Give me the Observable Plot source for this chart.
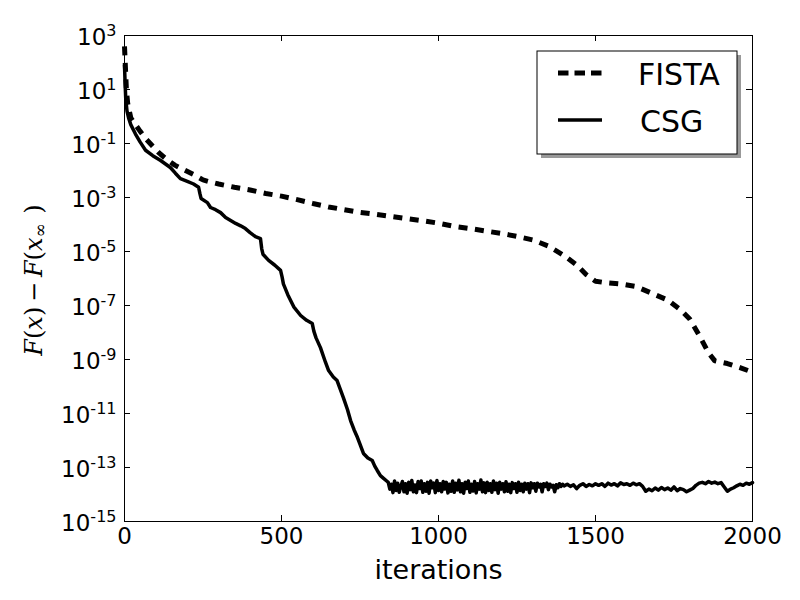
<!DOCTYPE html>
<html>
<head>
<meta charset="utf-8">
<script src="https://cdn.jsdelivr.net/npm/d3@7"></script>
<script src="https://cdn.jsdelivr.net/npm/@observablehq/plot@0.6"></script>
<style>
  html, body { margin: 0; padding: 0; background: white; }
</style>
</head>
<body>
<div id="chart"></div>
<script>
// ---- data ----
const xTicks = [0, 500, 1000, 1500, 2000];
const yTickExponents = [3, 1, -1, -3, -5, -7, -9, -11, -13, -15];
const seriesNames = ["FISTA", "CSG"];
const xLabel = "iterations";

const fistaIter = [0, 3, 6, 10, 20, 35, 50, 70, 90, 110, 130, 160, 190, 220, 250, 275, 300, 350, 400, 450, 500, 550, 600, 650, 700, 750, 800, 850, 900, 950, 1000, 1050, 1100, 1150, 1200, 1250, 1300, 1350, 1400, 1440, 1470, 1500, 1530, 1580, 1630, 1680, 1730, 1770, 1800, 1830, 1860, 1880, 1920, 1960, 2000];
const fistaLog10 = [2.6, 1.8, 1.0, 0.5, -0.05, -0.3, -0.55, -0.85, -1.1, -1.35, -1.55, -1.8, -1.98, -2.15, -2.35, -2.43, -2.5, -2.62, -2.72, -2.85, -2.95, -3.08, -3.22, -3.35, -3.45, -3.55, -3.62, -3.7, -3.78, -3.86, -3.95, -4.07, -4.15, -4.24, -4.33, -4.44, -4.57, -4.8, -5.15, -5.5, -5.85, -6.1, -6.15, -6.2, -6.3, -6.55, -6.8, -7.15, -7.5, -8.1, -8.75, -9.05, -9.15, -9.3, -9.47];

// CSG: descent phase
const csgIterA = [0, 2, 4, 8, 13, 20, 35, 50, 67, 90, 115, 146, 162, 178, 200, 220, 236, 240, 244, 264, 274, 290, 306, 322, 338, 354, 370, 385, 400, 417, 433, 437, 441, 459, 478, 497, 502, 506, 520, 539, 561, 580, 598, 603, 610, 624, 640, 650, 665, 677, 687, 697, 710, 720, 731, 742, 752, 761, 775, 789, 797, 805, 815, 825, 835];
const csgLog10A = [1.9, 1.2, 0.65, 0.2, -0.05, -0.3, -0.65, -0.95, -1.25, -1.45, -1.63, -1.89, -2.1, -2.3, -2.4, -2.5, -2.62, -2.85, -3.04, -3.19, -3.37, -3.45, -3.56, -3.74, -3.85, -3.96, -4.05, -4.15, -4.3, -4.45, -4.52, -4.9, -5.1, -5.33, -5.5, -5.7, -5.95, -6.2, -6.6, -7.05, -7.37, -7.55, -7.67, -7.95, -8.2, -8.56, -9.1, -9.41, -9.65, -9.78, -10.1, -10.41, -10.85, -11.26, -11.6, -11.89, -12.2, -12.48, -12.65, -12.74, -12.95, -13.11, -13.3, -13.4, -13.5];
// CSG: noisy floor
const csgIterB = [840, 845, 850, 855, 860, 865, 870, 875, 880, 885, 890, 895, 900, 905, 910, 915, 920, 925, 930, 935, 940, 945, 950, 955, 960, 965, 970, 975, 980, 985, 990, 995,
  1000, 1005, 1010, 1015, 1020, 1025, 1030, 1035, 1040, 1045, 1050, 1055, 1060, 1065, 1070, 1075, 1080, 1085, 1090, 1095,
  1100, 1105, 1110, 1115, 1120, 1125, 1130, 1135, 1140, 1145, 1150, 1155, 1160, 1165, 1170, 1175, 1180, 1185, 1190, 1195,
  1200, 1205, 1210, 1215, 1220, 1225, 1230, 1235, 1240, 1245, 1250, 1255, 1260, 1265, 1270, 1275, 1280, 1285, 1290, 1295,
  1300, 1305, 1310, 1315, 1320, 1325, 1330, 1335, 1340, 1345, 1350, 1355, 1360, 1365, 1370, 1375, 1380, 1385, 1390, 1395];
const csgLog10B = [-13.55, -13.8, -13.62, -13.93, -13.5, -13.85, -13.58, -13.92, -13.7, -13.52, -13.9, -13.6, -13.95, -13.55, -13.82, -13.48, -13.9, -13.65, -13.93, -13.52, -13.78, -13.5, -13.92, -13.6, -13.88, -13.55, -13.95, -13.5, -13.75, -13.58, -13.93, -13.48,
  -13.85, -13.6, -13.9, -13.52, -13.8, -13.55, -13.94, -13.62, -13.88, -13.5, -13.92, -13.58, -13.83, -13.47, -13.9, -13.6, -13.95, -13.55, -13.78, -13.5,
  -13.92, -13.62, -13.87, -13.52, -13.94, -13.6, -13.8, -13.46, -13.9, -13.57, -13.93, -13.55, -13.85, -13.6, -13.92, -13.5, -13.82, -13.58, -13.95, -13.55,
  -13.8, -13.6, -13.9, -13.53, -13.88, -13.62, -13.93, -13.56, -13.78, -13.6, -13.92, -13.55, -13.85, -13.62, -13.9, -13.58, -13.8, -13.6, -13.93, -13.57,
  -13.75, -13.6, -13.88, -13.58, -13.72, -13.62, -13.9, -13.6, -13.7, -13.58, -13.82, -13.62, -13.72, -13.66, -13.9, -13.64, -13.75, -13.6, -13.7, -13.62];
// CSG: calmer floor
const csgIterC = [1400, 1410, 1420, 1430, 1440, 1450, 1460, 1470, 1480, 1490, 1500, 1510, 1520, 1530, 1540, 1550, 1560, 1570, 1580, 1590,
  1600, 1610, 1620, 1630, 1640, 1650, 1660, 1670, 1680, 1690, 1700, 1710, 1720, 1730, 1740, 1750, 1760, 1770, 1780, 1790,
  1800, 1810, 1820, 1830, 1840, 1850, 1860, 1870, 1880, 1890, 1900, 1910, 1920, 1930, 1940, 1950, 1960, 1970, 1980, 1990, 2000];
const csgLog10C = [-13.68, -13.62, -13.7, -13.64, -13.78, -13.66, -13.6, -13.7, -13.63, -13.68, -13.6, -13.66, -13.6, -13.7, -13.58, -13.65, -13.6, -13.68, -13.57, -13.63,
  -13.6, -13.66, -13.58, -13.64, -13.6, -13.7, -13.88, -13.8, -13.86, -13.76, -13.84, -13.74, -13.82, -13.76, -13.84, -13.72, -13.86, -13.78, -13.82, -13.9,
  -13.84, -13.78, -13.66, -13.58, -13.55, -13.6, -13.52, -13.58, -13.54, -13.6, -13.56, -13.72, -13.88, -13.8, -13.75, -13.68, -13.62, -13.66, -13.58, -13.62, -13.56];

// ---- build tables ----
const fista = fistaIter.map((x, i) => ({x, y: Math.pow(10, fistaLog10[i])}));
const csgIter = csgIterA.concat(csgIterB, csgIterC);
const csgLog10 = csgLog10A.concat(csgLog10B, csgLog10C);
const csg = csgIter.map((x, i) => ({x, y: Math.pow(10, csgLog10[i])}));
const yTicks = yTickExponents.map(e => Math.pow(10, e));

const W = 800, H = 600;
const mL = 124, mR = 48, mT = 35, mB = 79;
const pw = W - mL - mR, ph = H - mT - mB;
const tick = 6;

const plot = Plot.plot({
  width: W, height: H,
  marginLeft: mL, marginRight: mR, marginTop: mT, marginBottom: mB,
  style: {fontFamily: "DejaVu Sans", background: "white", color: "black"},
  x: {domain: [0, 2000]},
  y: {type: "log", domain: [1e-15, 1e3]},
  marks: [
    Plot.line(fista, {x: "x", y: "y", stroke: "black", strokeWidth: 5, strokeDasharray: "9,7.5", strokeLinecap: "butt", strokeLinejoin: "miter"}),
    Plot.line(csg, {x: "x", y: "y", stroke: "black", strokeWidth: 3.5}),
    Plot.frame({stroke: "black", strokeWidth: 1}),
    Plot.tickX(xTicks, {x: d => d, insetTop: ph - tick, stroke: "black"}),
    Plot.tickX(xTicks, {x: d => d, insetBottom: ph - tick, stroke: "black"}),
    Plot.tickY(yTicks, {y: d => d, insetRight: pw - tick, stroke: "black"}),
    Plot.tickY(yTicks, {y: d => d, insetLeft: pw - tick, stroke: "black"}),
    Plot.axisX({ticks: xTicks, tickSize: 0, tickPadding: 6, fontSize: 23, label: null, tickFormat: d => String(d)}),
    Plot.axisY({ticks: yTicks, tickSize: 0, tickPadding: 8, fontSize: 23, label: null, dy: 2,
      tickFormat: d => "10^" + Math.round(Math.log10(d))}),
    Plot.text([xLabel], {frameAnchor: "bottom", dy: 57, fontSize: 27, text: d => d, fill: "black"})
  ]
});

document.getElementById("chart").appendChild(plot);
const svg = d3.select(plot);

// superscript exponents on y tick labels
svg.selectAll('g[aria-label="y-axis tick label"] text').each(function() {
  const t = d3.select(this);
  const s = t.text();
  const parts = s.split("^");
  if (parts.length !== 2) return;
  t.text(null);
  t.append("tspan").text(parts[0]);
  t.append("tspan").attr("dy", "-9").attr("font-size", 16).text(parts[1]);
});

// y-axis label
const yl = svg.append("text")
  .attr("transform", `translate(42,${mT + ph / 2 + 2}) rotate(-90)`)
  .attr("text-anchor", "middle")
  .attr("font-family", "DejaVu Serif")
  .attr("font-size", 24)
  .attr("fill", "black");
yl.append("tspan").attr("font-style", "italic").text("F");
yl.append("tspan").text("(");
yl.append("tspan").attr("font-style", "italic").text("x");
yl.append("tspan").text(")\u2009\u2212\u2009");
yl.append("tspan").attr("font-style", "italic").text("F");
yl.append("tspan").text("(");
yl.append("tspan").attr("font-style", "italic").text("x");
yl.append("tspan").attr("font-size", 17).attr("dy", 4).text("\u221E");
yl.append("tspan").attr("dy", -4).text("\u2009\u2009)");

// legend
const lg = svg.append("g").attr("text-anchor", "start");
lg.append("rect").attr("x", 541).attr("y", 55).attr("width", 200).attr("height", 103).attr("fill", "#999");
lg.append("rect").attr("x", 537).attr("y", 51).attr("width", 200).attr("height", 103).attr("fill", "white").attr("stroke", "black").attr("stroke-width", 1);
lg.append("line").attr("x1", 558).attr("x2", 602).attr("y1", 73).attr("y2", 73)
  .attr("stroke", "black").attr("stroke-width", 5).attr("stroke-dasharray", "10.5,6");
lg.append("line").attr("x1", 558).attr("x2", 602).attr("y1", 120).attr("y2", 120)
  .attr("stroke", "black").attr("stroke-width", 3.5);
lg.append("text").attr("x", 638).attr("y", 85).attr("font-size", 30).attr("font-family", "DejaVu Sans").attr("fill", "black").attr("text-anchor", "start").text(seriesNames[0]);
lg.append("text").attr("x", 640).attr("y", 132).attr("font-size", 30).attr("font-family", "DejaVu Sans").attr("fill", "black").attr("text-anchor", "start").text(seriesNames[1]);
</script>
</body>
</html>
